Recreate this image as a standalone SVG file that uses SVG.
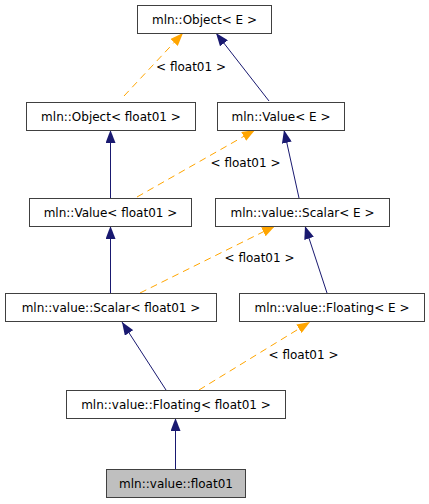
<svg xmlns="http://www.w3.org/2000/svg" width="429" height="504" viewBox="0 0 429 504">
<style>
.n rect{fill:#ffffff;stroke:#404040;stroke-width:1}
.n.cur rect{fill:#bfbfbf}
text{font-family:"DejaVu Sans",sans-serif;font-size:12px;fill:#000;text-anchor:middle}
.inh{stroke:#191970;stroke-width:1;fill:none;marker-end:url(#an)}
.tpl{stroke:#ffa500;stroke-width:1;fill:none;stroke-dasharray:7,5;marker-end:url(#ao)}
</style>
<defs>
<marker id="an" viewBox="0 0 13 10" refX="13" refY="5" markerWidth="13" markerHeight="10" markerUnits="userSpaceOnUse" orient="auto"><path d="M0,0 L13,5 L0,10 Z" fill="#191970" stroke="none"/></marker>
<marker id="ao" viewBox="0 0 13 10" refX="13" refY="5" markerWidth="13" markerHeight="10" markerUnits="userSpaceOnUse" orient="auto"><path d="M0,0 L13,5 L0,10 Z" fill="#ffa500" stroke="none"/></marker>
</defs>
<rect width="429" height="504" fill="#ffffff"/>
<g id="connectors">
<line class="tpl" x1="124" y1="96" x2="183" y2="33"/>
<line class="inh" x1="269" y1="101" x2="216" y2="33"/>
<line class="inh" x1="110.5" y1="198" x2="110.5" y2="130"/>
<line class="tpl" x1="137" y1="197" x2="255" y2="130"/>
<line class="inh" x1="299" y1="198" x2="284" y2="130"/>
<line class="inh" x1="110.5" y1="293" x2="110.5" y2="226"/>
<line class="tpl" x1="140" y1="293" x2="275" y2="226"/>
<line class="inh" x1="327" y1="293" x2="305" y2="226"/>
<line class="inh" x1="166" y1="390" x2="122" y2="322"/>
<line class="tpl" x1="199" y1="390" x2="310" y2="322"/>
<line class="inh" x1="175.5" y1="470" x2="175.5" y2="418"/>
<text x="191" y="71">&lt; float01 &gt;</text>
<text x="245.5" y="167">&lt; float01 &gt;</text>
<text x="259.5" y="262">&lt; float01 &gt;</text>
<text x="303.5" y="359">&lt; float01 &gt;</text>
</g>
<g id="object_E" class="n"><rect x="137.5" y="5.5" width="134" height="28"/><text x="204.5" y="24">mln::Object&lt; E &gt;</text></g>
<g id="object_float01" class="n"><rect x="26.5" y="102.5" width="169" height="28"/><text x="111" y="121">mln::Object&lt; float01 &gt;</text></g>
<g id="value_E" class="n"><rect x="217.5" y="102.5" width="127" height="28"/><text x="281" y="121">mln::Value&lt; E &gt;</text></g>
<g id="value_float01" class="n"><rect x="29.5" y="198.5" width="162" height="28"/><text x="110.5" y="217">mln::Value&lt; float01 &gt;</text></g>
<g id="scalar_E" class="n"><rect x="215.5" y="198.5" width="174" height="28"/><text x="302.5" y="217">mln::value::Scalar&lt; E &gt;</text></g>
<g id="scalar_float01" class="n"><rect x="5.5" y="293.5" width="211" height="28"/><text x="111" y="312">mln::value::Scalar&lt; float01 &gt;</text></g>
<g id="floating_E" class="n"><rect x="239.5" y="293.5" width="185" height="28"/><text x="332" y="312">mln::value::Floating&lt; E &gt;</text></g>
<g id="floating_float01" class="n"><rect x="66.5" y="390.5" width="219" height="28"/><text x="176" y="409">mln::value::Floating&lt; float01 &gt;</text></g>
<g id="float01" class="n cur"><rect x="106.5" y="469.5" width="139" height="28"/><text x="176" y="488">mln::value::float01</text></g>
</svg>
